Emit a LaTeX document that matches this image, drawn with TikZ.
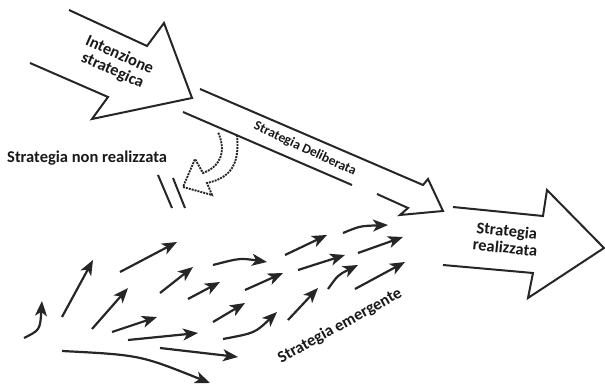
\documentclass[tikz,border=0pt]{standalone}
\usepackage{fontspec}
\setmainfont{Carlito}
\usetikzlibrary{arrows.meta}
\begin{document}
\begin{tikzpicture}[x=1pt,y=-1pt,
  outline/.style={line width=2pt,black!85,line join=miter},
  emarrow/.style={line width=2.2pt,black!85,-{Stealth[length=15pt,width=12pt,inset=4pt]}},
  dashout/.style={line width=1.9pt,black!85,dash pattern=on 2pt off 1pt},
  lbl/.style={font=\bfseries\fontsize{16.5}{17}\selectfont,align=center,inner sep=0pt,text=black!90}]
\useasboundingbox (0,0) rectangle (605,390);
% Intenzione strategica arrow
\draw[outline] (69,10)--(147,46)--(164,23)--(192,98)--(92,119)--(108,97)--(30,63);
\node[lbl,rotate=-24] (int) at (116,63) {Intenzione\\strategica};
% Strategia deliberata
\draw[outline] (200,89)--(423,185)--(428,179)--(443,211)--(400,215)--(408,208)--(377,194);
\draw[outline] (183,112)--(352,185);
\node[lbl,rotate=-25,font=\bfseries\fontsize{13.5}{14}\selectfont] (del) at (305,149) {Strategia Deliberata};
% Strategia non realizzata
\node[lbl,anchor=west] (nonr) at (7,158) {Strategia non realizzata};
\draw[dashout] (237,135) .. controls (240,165) and (230,178) .. (207,183) -- (212,195) -- (183,187) -- (195,159) -- (203,173) .. controls (222,166) and (226,150) .. (218,132);
\draw[line width=2pt,black!85] (158,175)--(172,208) (173,178)--(185,208);
% Strategia realizzata
\draw[outline] (453,207)--(543,216)--(547,190)--(604,248)--(528,298)--(533,273)--(443,265);
\node[lbl,rotate=-6] (real) at (506,239) {Strategia\\realizzata};
% emergent arrows
\draw[emarrow] (24,338) .. controls (40,330) .. (42,301);
\draw[emarrow] (62,317) -- (93,260);
\draw[emarrow] (120,272) -- (177,242);
\draw[emarrow] (92,329) -- (128,288);
\draw[emarrow] (160,293) -- (193,267);
\draw[emarrow] (112,332) -- (157,317);
\draw[emarrow] (128,340) -- (198,333);
\draw[emarrow] (160,348) -- (238,357);
\draw[emarrow] (62,351) .. controls (140,355) .. (210,383);
\draw[emarrow] (188,299) -- (220,282);
\draw[emarrow] (213,265) .. controls (240,258) .. (267,262);
\draw[emarrow] (245,290) -- (283,273);
\draw[emarrow] (213,322) -- (245,303);
\draw[emarrow] (223,339) .. controls (255,333) .. (277,312);
\draw[emarrow] (285,255) -- (327,235);
\draw[emarrow] (298,270) -- (345,255);
\draw[emarrow] (288,320) -- (318,288);
\draw[emarrow] (328,289) .. controls (338,275) .. (358,265);
\draw[emarrow] (343,233) .. controls (360,226) .. (388,225);
\draw[emarrow] (358,253) -- (403,237);
\draw[emarrow] (355,289) -- (405,262);
\node[lbl,rotate=29] (em) at (340,326) {Strategia emergente};
\end{tikzpicture}
\end{document}
